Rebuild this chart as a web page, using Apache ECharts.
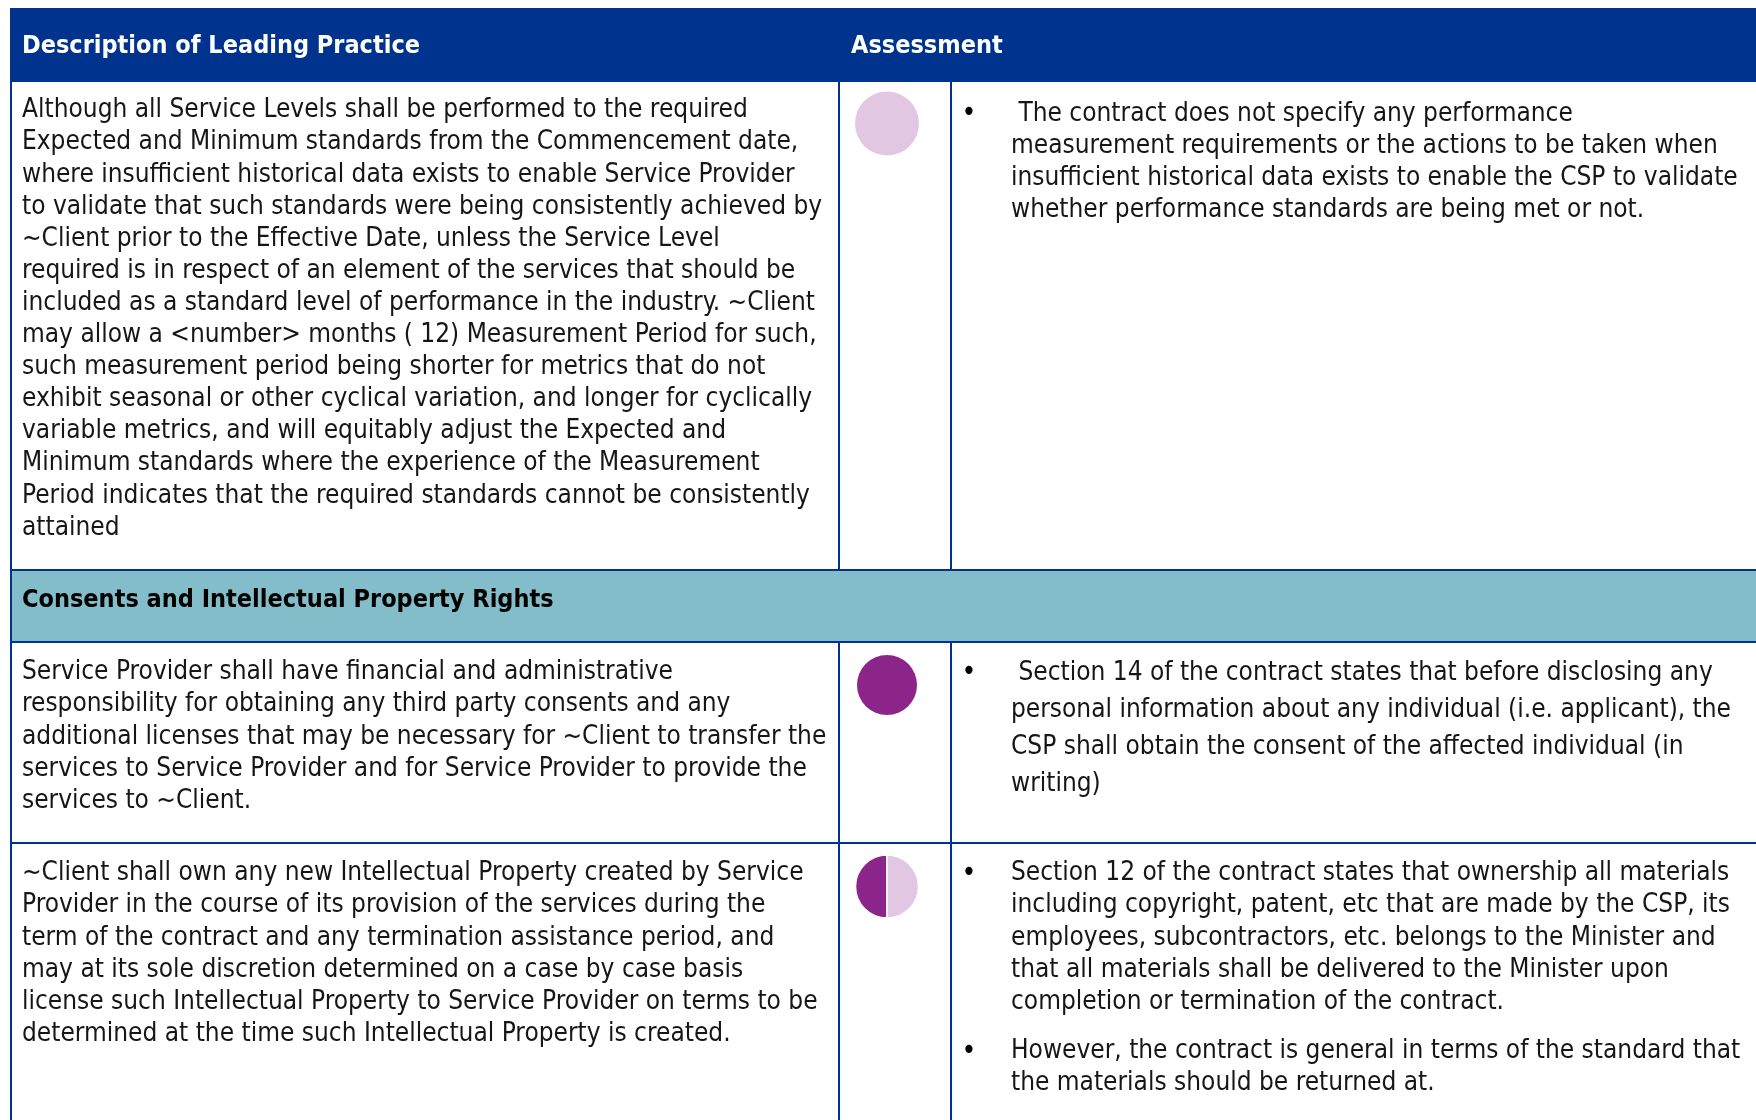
<!DOCTYPE html>
<html>
<head>
<meta charset="utf-8">
<script src="https://cdn.jsdelivr.net/npm/echarts@6/dist/echarts.min.js"></script>
<style>
  html, body { margin: 0; padding: 0; background: #ffffff; }
  #chart { width: 1756px; height: 1120px; }
</style>
</head>
<body>
<div id="chart"></div>
<script>
// ---------- DATA ----------
const headers = ['Description of Leading Practice', 'Assessment'];
const sectionTitle = 'Consents and Intellectual Property Rights';

const practiceLines = [
  [
    'Although all Service Levels shall be performed to the required',
    'Expected and Minimum standards from the Commencement date,',
    'where insufficient historical data exists to enable Service Provider',
    'to validate that such standards were being consistently achieved by',
    '~Client prior to the Effective Date, unless the Service Level',
    'required is in respect of an element of the services that should be',
    'included as a standard level of performance in the industry. ~Client',
    'may allow a <number> months ( 12) Measurement Period for such,',
    'such measurement period being shorter for metrics that do not',
    'exhibit seasonal or other cyclical variation, and longer for cyclically',
    'variable metrics, and will equitably adjust the Expected and',
    'Minimum standards where the experience of the Measurement',
    'Period indicates that the required standards cannot be consistently',
    'attained'
  ],
  [
    'Service Provider shall have financial and administrative',
    'responsibility for obtaining any third party consents and any',
    'additional licenses that may be necessary for ~Client to transfer the',
    'services to Service Provider and for Service Provider to provide the',
    'services to ~Client.'
  ],
  [
    '~Client shall own any new Intellectual Property created by Service',
    'Provider in the course of its provision of the services during the',
    'term of the contract and any termination assistance period, and',
    'may at its sole discretion determined on a case by case basis',
    'license such Intellectual Property to Service Provider on terms to be',
    'determined at the time such Intellectual Property is created.'
  ]
];

const assessmentPoints = [
  [
    [
      ' The contract does not specify any performance',
      'measurement requirements or the actions to be taken when',
      'insufficient historical data exists to enable the CSP to validate',
      'whether performance standards are being met or not.'
    ]
  ],
  [
    [
      ' Section 14 of the contract states that before disclosing any',
      'personal information about any individual (i.e. applicant), the',
      'CSP shall obtain the consent of the affected individual (in',
      'writing)'
    ]
  ],
  [
    [
      'Section 12 of the contract states that ownership all materials',
      'including copyright, patent, etc that are made by the CSP, its',
      'employees, subcontractors, etc. belongs to the Minister and',
      'that all materials shall be delivered to the Minister upon',
      'completion or termination of the contract.'
    ],
    [
      'However, the contract is general in terms of the standard that',
      'the materials should be returned at.'
    ]
  ]
];

// Harvey ball fill (share of the ball that is dark)
const harveyScores = [0, 1, 0.5];

// ---------- LAYOUT / STYLE ----------
const W = 1756, H = 1120;
const BLUE = '#00338D';
const TEAL = '#83BDC9';
const DARK = '#8B2589';
const LIGHT = '#E2C7E2';
const TEXT = '#161616';
const FONT = '"Liberation Sans Narrow", "Arial Narrow", "DejaVu Sans Condensed", sans-serif';
const FS_HEAD = 25;
const FS = 26;

const colX = [11, 839, 951, 1762];
const headerTop = 8, headerBottom = 82;
const sectionTop = 570, sectionBottom = 642;
// practice rows: [top, bottom]
const practiceRows = [[82, 570], [642, 843], [843, 1130]];
const bodyLH = [32.1, 32.3, 32.1];
const assessLH = [32, 37, 32.1];
const practicePad = [12.5, 14, 14.5];
const assessPad = [16, 12.5, 14.5];
const paraGap = 17.5;
const ballOffsetX = 48;
const ballOffsetY = [41.5, 43, 43.5];
const ballRadius = [32, 30, 31.5];

const graphics = [];
// header band
graphics.push({ type: 'rect', shape: { x: colX[0] - 1, y: headerTop, width: W - colX[0] + 1, height: headerBottom - headerTop },
  style: { fill: BLUE }, silent: true });
graphics.push({ type: 'text', style: { text: headers[0], x: colX[0] + 11, y: (headerTop + headerBottom) / 2 + 1,
  verticalAlign: 'middle', fill: '#ffffff', fontFamily: FONT, fontSize: FS_HEAD, fontWeight: 'bold' } });
graphics.push({ type: 'text', style: { text: headers[1], x: colX[1] + 12, y: (headerTop + headerBottom) / 2 + 1,
  verticalAlign: 'middle', fill: '#ffffff', fontFamily: FONT, fontSize: FS_HEAD, fontWeight: 'bold' } });

// section band
graphics.push({ type: 'rect', shape: { x: colX[0], y: sectionTop, width: W - colX[0], height: sectionBottom - sectionTop },
  style: { fill: TEAL }, silent: true });
graphics.push({ type: 'text', style: { text: sectionTitle, x: colX[0] + 11, y: (sectionTop + sectionBottom) / 2 - 6,
  verticalAlign: 'middle', fill: '#000000', fontFamily: FONT, fontSize: FS_HEAD, fontWeight: 'bold' } });

function line(x1, y1, x2, y2) {
  graphics.push({ type: 'line', shape: { x1, y1, x2, y2 }, style: { stroke: BLUE, lineWidth: 2 }, silent: true });
}

// grid lines
line(colX[0], headerBottom, colX[0], H + 5);
practiceRows.forEach(([t, b]) => {
  line(colX[1], t, colX[1], b);
  line(colX[2], t, colX[2], b);
});
line(colX[0], sectionTop, W + 5, sectionTop);
line(colX[0], sectionBottom, W + 5, sectionBottom);
line(colX[0], practiceRows[1][1], W + 5, practiceRows[1][1]);

// cell texts
practiceRows.forEach(([t, b], i) => {
  graphics.push({ type: 'text', style: {
    text: practiceLines[i].join('\n'), x: colX[0] + 11, y: t + practicePad[i],
    verticalAlign: 'top', fill: TEXT, fontFamily: FONT, fontSize: FS, lineHeight: bodyLH[i] } });
  let y = t + assessPad[i];
  assessmentPoints[i].forEach((para) => {
    graphics.push({ type: 'text', style: {
      text: '\u2022', x: colX[2] + 18, y: y + assessLH[i] / 2, align: 'center', verticalAlign: 'middle',
      fill: '#000000', fontFamily: FONT, fontSize: FS + 2 } });
    graphics.push({ type: 'text', style: {
      text: para.join('\n'), x: colX[2] + 60, y: y,
      verticalAlign: 'top', fill: TEXT, fontFamily: FONT, fontSize: FS, lineHeight: assessLH[i] } });
    y += para.length * assessLH[i] + paraGap;
  });
});

// Harvey balls as pie series
const series = harveyScores.map((s, i) => ({
  type: 'pie',
  silent: true,
  animation: false,
  center: [colX[1] + ballOffsetX, practiceRows[i][0] + ballOffsetY[i]],
  radius: [0, ballRadius[i]],
  startAngle: 90,
  clockwise: false,
  label: { show: false },
  labelLine: { show: false },
  itemStyle: { borderWidth: s > 0 && s < 1 ? 1.5 : 0, borderColor: '#ffffff' },
  data: [
    { value: s, itemStyle: { color: DARK } },
    { value: 1 - s, itemStyle: { color: LIGHT } }
  ]
}));

const chart = echarts.init(document.getElementById('chart'), null, { renderer: 'canvas', width: W, height: H });
chart.setOption({
  backgroundColor: '#ffffff',
  animation: false,
  graphic: graphics,
  series: series
});
</script>
</body>
</html>
